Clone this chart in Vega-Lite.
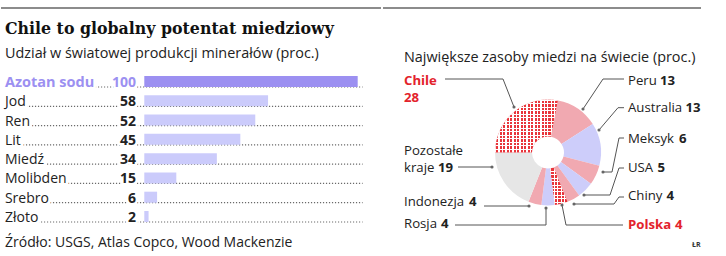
{
  "$schema": "https://vega.github.io/schema/vega-lite/v6.json",
  "padding": 0,
  "spacing": 0,
  "background": "white",
  "config": {"view": {"stroke": null}, "font": "Open Sans", "concat": {"spacing": 0}},
  "datasets": {
    "mineraly": [
      {"nazwa": "Azotan sodu", "udzial": 100},
      {"nazwa": "Jod", "udzial": 58},
      {"nazwa": "Ren", "udzial": 52},
      {"nazwa": "Lit", "udzial": 45},
      {"nazwa": "Miedź", "udzial": 34},
      {"nazwa": "Molibden", "udzial": 15},
      {"nazwa": "Srebro", "udzial": 6},
      {"nazwa": "Złoto", "udzial": 2}
    ],
    "zasoby": [
      {"i": 1, "kraj": "Peru", "proc": 13},
      {"i": 2, "kraj": "Australia", "proc": 13},
      {"i": 3, "kraj": "Meksyk", "proc": 6},
      {"i": 4, "kraj": "USA", "proc": 5},
      {"i": 5, "kraj": "Chiny", "proc": 4},
      {"i": 6, "kraj": "Polska", "proc": 4},
      {"i": 7, "kraj": "Rosja", "proc": 4},
      {"i": 8, "kraj": "Indonezja", "proc": 4},
      {"i": 9, "kraj": "Pozostałe kraje", "proc": 19},
      {"i": 10, "kraj": "Chile", "proc": 28}
    ],
    "podpisy": [
      {"kraj": "Chile", "nazwa": "Chile", "x": 401, "y": 85, "nx": 401, "ny": 102},
      {"kraj": "Peru", "nazwa": "Peru", "x": 625, "y": 85, "nx": 657, "ny": 85},
      {"kraj": "Australia", "nazwa": "Australia", "x": 625, "y": 112, "nx": 682.5, "ny": 112},
      {"kraj": "Meksyk", "nazwa": "Meksyk", "x": 625, "y": 143, "nx": 676, "ny": 143},
      {"kraj": "USA", "nazwa": "USA", "x": 625, "y": 172, "nx": 654.5, "ny": 172},
      {"kraj": "Chiny", "nazwa": "Chiny", "x": 625, "y": 200, "nx": 663.5, "ny": 200},
      {"kraj": "Polska", "nazwa": "Polska", "x": 625, "y": 229, "nx": 672, "ny": 229},
      {"kraj": "Pozostałe kraje", "nazwa": "Pozostałe", "x": 401, "y": 155},
      {"kraj": "Pozostałe kraje", "nazwa": "kraje", "x": 401, "y": 172, "nx": 435, "ny": 172},
      {"kraj": "Indonezja", "nazwa": "Indonezja", "x": 401, "y": 206, "nx": 466, "ny": 206},
      {"kraj": "Rosja", "nazwa": "Rosja", "x": 401, "y": 228, "nx": 438, "ny": 228}
    ],
    "linie": [
      {"kraj": "Chile", "p": 0, "x": 511, "y": 107},
      {"kraj": "Chile", "p": 1, "x": 500, "y": 79},
      {"kraj": "Chile", "p": 2, "x": 442, "y": 79},
      {"kraj": "Peru", "p": 0, "x": 580, "y": 109},
      {"kraj": "Peru", "p": 1, "x": 600, "y": 79},
      {"kraj": "Peru", "p": 2, "x": 621, "y": 79},
      {"kraj": "Australia", "p": 0, "x": 596, "y": 130},
      {"kraj": "Australia", "p": 1, "x": 615, "y": 107.7},
      {"kraj": "Australia", "p": 2, "x": 621, "y": 107.7},
      {"kraj": "Meksyk", "p": 0, "x": 600, "y": 172},
      {"kraj": "Meksyk", "p": 1, "x": 609, "y": 172},
      {"kraj": "Meksyk", "p": 2, "x": 616, "y": 138},
      {"kraj": "Meksyk", "p": 3, "x": 621, "y": 138},
      {"kraj": "USA", "p": 0, "x": 581, "y": 195},
      {"kraj": "USA", "p": 1, "x": 607, "y": 195},
      {"kraj": "USA", "p": 2, "x": 616, "y": 168},
      {"kraj": "USA", "p": 3, "x": 621, "y": 168},
      {"kraj": "Chiny", "p": 0, "x": 571, "y": 204},
      {"kraj": "Chiny", "p": 1, "x": 611, "y": 204},
      {"kraj": "Chiny", "p": 2, "x": 616, "y": 197},
      {"kraj": "Chiny", "p": 3, "x": 621, "y": 197},
      {"kraj": "Polska", "p": 0, "x": 559, "y": 205},
      {"kraj": "Polska", "p": 1, "x": 563, "y": 225},
      {"kraj": "Polska", "p": 2, "x": 620, "y": 225},
      {"kraj": "Rosja", "p": 0, "x": 543, "y": 208},
      {"kraj": "Rosja", "p": 1, "x": 543, "y": 225},
      {"kraj": "Rosja", "p": 2, "x": 452, "y": 225},
      {"kraj": "Indonezja", "p": 0, "x": 526, "y": 206},
      {"kraj": "Indonezja", "p": 1, "x": 481, "y": 206},
      {"kraj": "Pozostałe kraje", "p": 0, "x": 489, "y": 167},
      {"kraj": "Pozostałe kraje", "p": 1, "x": 455, "y": 167}
    ]
  },
  "hconcat": [
    {
      "spacing": 0,
      "vconcat": [
        {
          "width": 380,
          "height": 66,
          "data": {"values": [{}]},
          "layer": [
            {
              "mark": {"type": "rule", "color": "#8c8c8c", "strokeWidth": 2},
              "encoding": {
                "x": {"datum": 0, "type": "quantitative", "scale": {"domain": [0, 380], "nice": false, "zero": false}, "axis": null},
                "x2": {"datum": 380},
                "y": {"datum": 8, "type": "quantitative", "scale": {"domain": [0, 66], "reverse": true, "nice": false, "zero": false}, "axis": null}
              }
            },
            {
              "mark": {"type": "text", "align": "left", "baseline": "alphabetic", "font": "DejaVu Serif", "fontSize": 15.8, "fontWeight": "bold", "color": "#111111"},
              "encoding": {
                "x": {"datum": 4, "type": "quantitative", "scale": {"domain": [0, 380], "nice": false, "zero": false}, "axis": null},
                "y": {"datum": 34, "type": "quantitative", "scale": {"domain": [0, 66], "reverse": true, "nice": false, "zero": false}, "axis": null},
                "text": {"value": "Chile to globalny potentat miedziowy"}
              }
            },
            {
              "mark": {"type": "text", "align": "left", "baseline": "alphabetic", "fontSize": 14.4, "color": "#222222"},
              "encoding": {
                "x": {"datum": 4, "type": "quantitative", "scale": {"domain": [0, 380], "nice": false, "zero": false}, "axis": null},
                "y": {"datum": 58, "type": "quantitative", "scale": {"domain": [0, 66], "reverse": true, "nice": false, "zero": false}, "axis": null},
                "text": {"value": "Udział w światowej produkcji minerałów (proc.)"}
              }
            }
          ]
        },
        {
          "width": 380,
          "height": 166,
          "data": {"name": "mineraly"},
          "layer": [
            {
              "mark": {"type": "rule", "strokeDash": [1.2, 1.8], "color": "#6a6a6a", "strokeWidth": 1.2},
              "encoding": {
                "x": {"datum": -65.3, "type": "quantitative", "scale": {"domain": [-67.15, 110.92], "nice": false, "zero": false}, "axis": null},
                "x2": {"datum": 102.3},
                "y": {"field": "nazwa", "type": "nominal", "bandPosition": 1, "axis": null, "scale": {"type": "band", "domain": ["Azotan sodu", "Jod", "Ren", "Lit", "Miedź", "Molibden", "Srebro", "Złoto"], "paddingInner": 0.4283, "paddingOuter": 0.5186}}
              }
            },
            {
              "mark": {"type": "bar"},
              "encoding": {
                "x": {"field": "udzial", "type": "quantitative", "scale": {"domain": [-67.15, 110.92], "nice": false, "zero": false}, "axis": null},
                "x2": {"datum": 0},
                "y": {"field": "nazwa", "type": "nominal", "axis": null, "scale": {"type": "band", "domain": ["Azotan sodu", "Jod", "Ren", "Lit", "Miedź", "Molibden", "Srebro", "Złoto"], "paddingInner": 0.4283, "paddingOuter": 0.5186}},
                "color": {"condition": {"test": "datum.nazwa === 'Azotan sodu'", "value": "#9c90f1"}, "value": "#cbcbfb"}
              }
            },
            {
              "transform": [{"filter": "datum.nazwa !== 'Azotan sodu'"}],
              "mark": {"type": "text", "align": "left", "baseline": "alphabetic", "fontSize": 14, "fill": "white", "stroke": "white", "strokeWidth": 6, "strokeJoin": "round"},
              "encoding": {
                "x": {"datum": -65.3, "type": "quantitative", "scale": {"domain": [-67.15, 110.92], "nice": false, "zero": false}, "axis": null},
                "y": {"field": "nazwa", "type": "nominal", "bandPosition": 1, "axis": null, "scale": {"type": "band", "domain": ["Azotan sodu", "Jod", "Ren", "Lit", "Miedź", "Molibden", "Srebro", "Złoto"], "paddingInner": 0.4283, "paddingOuter": 0.5186}},
                "text": {"field": "nazwa"}
              }
            },
            {
              "transform": [{"filter": "datum.nazwa === 'Azotan sodu'"}],
              "mark": {"type": "text", "align": "left", "baseline": "alphabetic", "fontSize": 14.5, "fontWeight": "bold", "fill": "white", "stroke": "white", "strokeWidth": 6, "strokeJoin": "round"},
              "encoding": {
                "x": {"datum": -65.3, "type": "quantitative", "scale": {"domain": [-67.15, 110.92], "nice": false, "zero": false}, "axis": null},
                "y": {"field": "nazwa", "type": "nominal", "bandPosition": 1, "axis": null, "scale": {"type": "band", "domain": ["Azotan sodu", "Jod", "Ren", "Lit", "Miedź", "Molibden", "Srebro", "Złoto"], "paddingInner": 0.4283, "paddingOuter": 0.5186}},
                "text": {"field": "nazwa"}
              }
            },
            {
              "mark": {"type": "text", "align": "right", "baseline": "alphabetic", "fontSize": 14, "fontWeight": "bold", "fill": "white", "stroke": "white", "strokeWidth": 5, "strokeJoin": "round"},
              "encoding": {
                "x": {"datum": -3.9, "type": "quantitative", "scale": {"domain": [-67.15, 110.92], "nice": false, "zero": false}, "axis": null},
                "y": {"field": "nazwa", "type": "nominal", "bandPosition": 1, "axis": null, "scale": {"type": "band", "domain": ["Azotan sodu", "Jod", "Ren", "Lit", "Miedź", "Molibden", "Srebro", "Złoto"], "paddingInner": 0.4283, "paddingOuter": 0.5186}},
                "text": {"field": "udzial"}
              }
            },
            {
              "transform": [{"filter": "datum.nazwa !== 'Azotan sodu'"}],
              "mark": {"type": "text", "align": "left", "baseline": "alphabetic", "fontSize": 14, "color": "#222222"},
              "encoding": {
                "x": {"datum": -65.3, "type": "quantitative", "scale": {"domain": [-67.15, 110.92], "nice": false, "zero": false}, "axis": null},
                "y": {"field": "nazwa", "type": "nominal", "bandPosition": 1, "axis": null, "scale": {"type": "band", "domain": ["Azotan sodu", "Jod", "Ren", "Lit", "Miedź", "Molibden", "Srebro", "Złoto"], "paddingInner": 0.4283, "paddingOuter": 0.5186}},
                "text": {"field": "nazwa"}
              }
            },
            {
              "transform": [{"filter": "datum.nazwa === 'Azotan sodu'"}],
              "mark": {"type": "text", "align": "left", "baseline": "alphabetic", "fontSize": 14.5, "fontWeight": "bold", "color": "#9c90f1"},
              "encoding": {
                "x": {"datum": -65.3, "type": "quantitative", "scale": {"domain": [-67.15, 110.92], "nice": false, "zero": false}, "axis": null},
                "y": {"field": "nazwa", "type": "nominal", "bandPosition": 1, "axis": null, "scale": {"type": "band", "domain": ["Azotan sodu", "Jod", "Ren", "Lit", "Miedź", "Molibden", "Srebro", "Złoto"], "paddingInner": 0.4283, "paddingOuter": 0.5186}},
                "text": {"field": "nazwa"}
              }
            },
            {
              "mark": {"type": "text", "align": "right", "baseline": "alphabetic", "fontSize": 14, "fontWeight": "bold"},
              "encoding": {
                "x": {"datum": -3.9, "type": "quantitative", "scale": {"domain": [-67.15, 110.92], "nice": false, "zero": false}, "axis": null},
                "y": {"field": "nazwa", "type": "nominal", "bandPosition": 1, "axis": null, "scale": {"type": "band", "domain": ["Azotan sodu", "Jod", "Ren", "Lit", "Miedź", "Molibden", "Srebro", "Złoto"], "paddingInner": 0.4283, "paddingOuter": 0.5186}},
                "text": {"field": "udzial"},
                "color": {"condition": {"test": "datum.nazwa === 'Azotan sodu'", "value": "#9c90f1"}, "value": "#222222"}
              }
            }
          ]
        },
        {
          "width": 380,
          "height": 24,
          "data": {"values": [{}]},
          "mark": {"type": "text", "align": "left", "baseline": "alphabetic", "fontSize": 14, "color": "#222222"},
          "encoding": {
            "x": {"datum": 4, "type": "quantitative", "scale": {"domain": [0, 380], "nice": false, "zero": false}, "axis": null},
            "y": {"datum": 247, "type": "quantitative", "scale": {"domain": [232, 256], "reverse": true, "nice": false, "zero": false}, "axis": null},
            "text": {"value": "Źródło: USGS, Atlas Copco, Wood Mackenzie"}
          }
        }
      ]
    },
    {
      "width": 346,
      "height": 256,
      "layer": [
        {
          "data": {"values": [{}]},
          "mark": {"type": "rule", "color": "#8c8c8c", "strokeWidth": 2},
          "encoding": {
            "x": {"datum": 380, "type": "quantitative", "scale": {"domain": [380, 726], "nice": false, "zero": false}, "axis": null},
            "x2": {"datum": 698},
            "y": {"datum": 8, "type": "quantitative", "scale": {"domain": [0, 256], "reverse": true, "nice": false, "zero": false}, "axis": null}
          }
        },
        {
          "data": {"values": [{}]},
          "mark": {"type": "text", "align": "left", "baseline": "alphabetic", "fontSize": 14.4, "color": "#222222"},
          "encoding": {
            "x": {"datum": 401, "type": "quantitative", "scale": {"domain": [380, 726], "nice": false, "zero": false}, "axis": null},
            "y": {"datum": 62, "type": "quantitative", "scale": {"domain": [0, 256], "reverse": true, "nice": false, "zero": false}, "axis": null},
            "text": {"value": "Największe zasoby miedzi na świecie (proc.)"}
          }
        },
        {
          "data": {"name": "zasoby"},
          "mark": {"type": "arc", "outerRadius": 53, "innerRadius": 16},
          "encoding": {
            "x": {"datum": 545, "type": "quantitative", "scale": {"domain": [380, 726], "nice": false, "zero": false}, "axis": null},
            "y": {"datum": 152.5, "type": "quantitative", "scale": {"domain": [0, 256], "reverse": true, "nice": false, "zero": false}, "axis": null},
            "theta": {"field": "proc", "type": "quantitative", "stack": true, "scale": {"range": [0.1885, 6.4717]}},
            "order": {"field": "i", "type": "quantitative"},
            "fill": {"field": "kraj", "type": "nominal", "legend": null, "scale": {"domain": ["Peru", "Australia", "Meksyk", "USA", "Chiny", "Polska", "Rosja", "Indonezja", "Pozostałe kraje", "Chile"], "range": ["#f1a9b1", "#cdcdfa", "#f1a9b1", "#cdcdfa", "#f1a9b1", "#e8343a", "#cdcdfa", "#f1a9b1", "#e6e6e6", "#e8343a"]}}
          }
        },
        {
          "data": {"name": "zasoby"},
          "mark": {"type": "arc", "outerRadius": 53, "innerRadius": 16},
          "encoding": {
            "x": {"datum": 545, "type": "quantitative", "scale": {"domain": [380, 726], "nice": false, "zero": false}, "axis": null},
            "y": {"datum": 152.5, "type": "quantitative", "scale": {"domain": [0, 256], "reverse": true, "nice": false, "zero": false}, "axis": null},
            "theta": {"field": "proc", "type": "quantitative", "stack": true, "scale": {"range": [0.1885, 6.4717]}},
            "order": {"field": "i", "type": "quantitative"},
            "fill": {
              "condition": [
                {"test": "datum.kraj === 'Chile'", "value": {"gradient": "linear", "x1": 0, "y1": 0, "x2": 1, "y2": 0, "stops": [
                  {"offset": 0, "color": "#fff"}, {"offset": 0.0167, "color": "#fff"}, {"offset": 0.0167, "color": "transparent"}, {"offset": 0.0556, "color": "transparent"},
                  {"offset": 0.0556, "color": "#fff"}, {"offset": 0.0722, "color": "#fff"}, {"offset": 0.0722, "color": "transparent"}, {"offset": 0.1111, "color": "transparent"},
                  {"offset": 0.1111, "color": "#fff"}, {"offset": 0.1278, "color": "#fff"}, {"offset": 0.1278, "color": "transparent"}, {"offset": 0.1667, "color": "transparent"},
                  {"offset": 0.1667, "color": "#fff"}, {"offset": 0.1833, "color": "#fff"}, {"offset": 0.1833, "color": "transparent"}, {"offset": 0.2222, "color": "transparent"},
                  {"offset": 0.2222, "color": "#fff"}, {"offset": 0.2389, "color": "#fff"}, {"offset": 0.2389, "color": "transparent"}, {"offset": 0.2778, "color": "transparent"},
                  {"offset": 0.2778, "color": "#fff"}, {"offset": 0.2944, "color": "#fff"}, {"offset": 0.2944, "color": "transparent"}, {"offset": 0.3333, "color": "transparent"},
                  {"offset": 0.3333, "color": "#fff"}, {"offset": 0.35, "color": "#fff"}, {"offset": 0.35, "color": "transparent"}, {"offset": 0.3889, "color": "transparent"},
                  {"offset": 0.3889, "color": "#fff"}, {"offset": 0.4056, "color": "#fff"}, {"offset": 0.4056, "color": "transparent"}, {"offset": 0.4444, "color": "transparent"},
                  {"offset": 0.4444, "color": "#fff"}, {"offset": 0.4611, "color": "#fff"}, {"offset": 0.4611, "color": "transparent"}, {"offset": 0.5, "color": "transparent"},
                  {"offset": 0.5, "color": "#fff"}, {"offset": 0.5167, "color": "#fff"}, {"offset": 0.5167, "color": "transparent"}, {"offset": 0.5556, "color": "transparent"},
                  {"offset": 0.5556, "color": "#fff"}, {"offset": 0.5722, "color": "#fff"}, {"offset": 0.5722, "color": "transparent"}, {"offset": 0.6111, "color": "transparent"},
                  {"offset": 0.6111, "color": "#fff"}, {"offset": 0.6278, "color": "#fff"}, {"offset": 0.6278, "color": "transparent"}, {"offset": 0.6667, "color": "transparent"},
                  {"offset": 0.6667, "color": "#fff"}, {"offset": 0.6833, "color": "#fff"}, {"offset": 0.6833, "color": "transparent"}, {"offset": 0.7222, "color": "transparent"},
                  {"offset": 0.7222, "color": "#fff"}, {"offset": 0.7389, "color": "#fff"}, {"offset": 0.7389, "color": "transparent"}, {"offset": 0.7778, "color": "transparent"},
                  {"offset": 0.7778, "color": "#fff"}, {"offset": 0.7944, "color": "#fff"}, {"offset": 0.7944, "color": "transparent"}, {"offset": 0.8333, "color": "transparent"},
                  {"offset": 0.8333, "color": "#fff"}, {"offset": 0.85, "color": "#fff"}, {"offset": 0.85, "color": "transparent"}, {"offset": 0.8889, "color": "transparent"},
                  {"offset": 0.8889, "color": "#fff"}, {"offset": 0.9056, "color": "#fff"}, {"offset": 0.9056, "color": "transparent"}, {"offset": 0.9444, "color": "transparent"},
                  {"offset": 0.9444, "color": "#fff"}, {"offset": 0.9611, "color": "#fff"}, {"offset": 0.9611, "color": "transparent"}, {"offset": 1, "color": "transparent"}
                ]}},
                {"test": "datum.kraj === 'Polska'", "value": {"gradient": "linear", "x1": 0, "y1": 0, "x2": 1, "y2": 0, "stops": [
                  {"offset": 0, "color": "#fff"}, {"offset": 0.06, "color": "#fff"}, {"offset": 0.06, "color": "transparent"}, {"offset": 0.2, "color": "transparent"},
                  {"offset": 0.2, "color": "#fff"}, {"offset": 0.26, "color": "#fff"}, {"offset": 0.26, "color": "transparent"}, {"offset": 0.4, "color": "transparent"},
                  {"offset": 0.4, "color": "#fff"}, {"offset": 0.46, "color": "#fff"}, {"offset": 0.46, "color": "transparent"}, {"offset": 0.6, "color": "transparent"},
                  {"offset": 0.6, "color": "#fff"}, {"offset": 0.66, "color": "#fff"}, {"offset": 0.66, "color": "transparent"}, {"offset": 0.8, "color": "transparent"},
                  {"offset": 0.8, "color": "#fff"}, {"offset": 0.86, "color": "#fff"}, {"offset": 0.86, "color": "transparent"}, {"offset": 1, "color": "transparent"}
                ]}}
              ],
              "value": "transparent"
            }
          }
        },
        {
          "data": {"name": "zasoby"},
          "mark": {"type": "arc", "outerRadius": 53, "innerRadius": 16},
          "encoding": {
            "x": {"datum": 545, "type": "quantitative", "scale": {"domain": [380, 726], "nice": false, "zero": false}, "axis": null},
            "y": {"datum": 152.5, "type": "quantitative", "scale": {"domain": [0, 256], "reverse": true, "nice": false, "zero": false}, "axis": null},
            "theta": {"field": "proc", "type": "quantitative", "stack": true, "scale": {"range": [0.1885, 6.4717]}},
            "order": {"field": "i", "type": "quantitative"},
            "fill": {
              "condition": [
                {"test": "datum.kraj === 'Chile'", "value": {"gradient": "linear", "x1": 0, "y1": 0, "x2": 0, "y2": 1, "stops": [
                  {"offset": 0, "color": "#fff"}, {"offset": 0.02, "color": "#fff"}, {"offset": 0.02, "color": "transparent"}, {"offset": 0.0667, "color": "transparent"},
                  {"offset": 0.0667, "color": "#fff"}, {"offset": 0.0867, "color": "#fff"}, {"offset": 0.0867, "color": "transparent"}, {"offset": 0.1333, "color": "transparent"},
                  {"offset": 0.1333, "color": "#fff"}, {"offset": 0.1533, "color": "#fff"}, {"offset": 0.1533, "color": "transparent"}, {"offset": 0.2, "color": "transparent"},
                  {"offset": 0.2, "color": "#fff"}, {"offset": 0.22, "color": "#fff"}, {"offset": 0.22, "color": "transparent"}, {"offset": 0.2667, "color": "transparent"},
                  {"offset": 0.2667, "color": "#fff"}, {"offset": 0.2867, "color": "#fff"}, {"offset": 0.2867, "color": "transparent"}, {"offset": 0.3333, "color": "transparent"},
                  {"offset": 0.3333, "color": "#fff"}, {"offset": 0.3533, "color": "#fff"}, {"offset": 0.3533, "color": "transparent"}, {"offset": 0.4, "color": "transparent"},
                  {"offset": 0.4, "color": "#fff"}, {"offset": 0.42, "color": "#fff"}, {"offset": 0.42, "color": "transparent"}, {"offset": 0.4667, "color": "transparent"},
                  {"offset": 0.4667, "color": "#fff"}, {"offset": 0.4867, "color": "#fff"}, {"offset": 0.4867, "color": "transparent"}, {"offset": 0.5333, "color": "transparent"},
                  {"offset": 0.5333, "color": "#fff"}, {"offset": 0.5533, "color": "#fff"}, {"offset": 0.5533, "color": "transparent"}, {"offset": 0.6, "color": "transparent"},
                  {"offset": 0.6, "color": "#fff"}, {"offset": 0.62, "color": "#fff"}, {"offset": 0.62, "color": "transparent"}, {"offset": 0.6667, "color": "transparent"},
                  {"offset": 0.6667, "color": "#fff"}, {"offset": 0.6867, "color": "#fff"}, {"offset": 0.6867, "color": "transparent"}, {"offset": 0.7333, "color": "transparent"},
                  {"offset": 0.7333, "color": "#fff"}, {"offset": 0.7533, "color": "#fff"}, {"offset": 0.7533, "color": "transparent"}, {"offset": 0.8, "color": "transparent"},
                  {"offset": 0.8, "color": "#fff"}, {"offset": 0.82, "color": "#fff"}, {"offset": 0.82, "color": "transparent"}, {"offset": 0.8667, "color": "transparent"},
                  {"offset": 0.8667, "color": "#fff"}, {"offset": 0.8867, "color": "#fff"}, {"offset": 0.8867, "color": "transparent"}, {"offset": 0.9333, "color": "transparent"},
                  {"offset": 0.9333, "color": "#fff"}, {"offset": 0.9533, "color": "#fff"}, {"offset": 0.9533, "color": "transparent"}, {"offset": 1, "color": "transparent"}
                ]}},
                {"test": "datum.kraj === 'Polska'", "value": {"gradient": "linear", "x1": 0, "y1": 0, "x2": 0, "y2": 1, "stops": [
                  {"offset": 0, "color": "#fff"}, {"offset": 0.0273, "color": "#fff"}, {"offset": 0.0273, "color": "transparent"}, {"offset": 0.0909, "color": "transparent"},
                  {"offset": 0.0909, "color": "#fff"}, {"offset": 0.1182, "color": "#fff"}, {"offset": 0.1182, "color": "transparent"}, {"offset": 0.1818, "color": "transparent"},
                  {"offset": 0.1818, "color": "#fff"}, {"offset": 0.2091, "color": "#fff"}, {"offset": 0.2091, "color": "transparent"}, {"offset": 0.2727, "color": "transparent"},
                  {"offset": 0.2727, "color": "#fff"}, {"offset": 0.3, "color": "#fff"}, {"offset": 0.3, "color": "transparent"}, {"offset": 0.3636, "color": "transparent"},
                  {"offset": 0.3636, "color": "#fff"}, {"offset": 0.3909, "color": "#fff"}, {"offset": 0.3909, "color": "transparent"}, {"offset": 0.4545, "color": "transparent"},
                  {"offset": 0.4545, "color": "#fff"}, {"offset": 0.4818, "color": "#fff"}, {"offset": 0.4818, "color": "transparent"}, {"offset": 0.5455, "color": "transparent"},
                  {"offset": 0.5455, "color": "#fff"}, {"offset": 0.5727, "color": "#fff"}, {"offset": 0.5727, "color": "transparent"}, {"offset": 0.6364, "color": "transparent"},
                  {"offset": 0.6364, "color": "#fff"}, {"offset": 0.6636, "color": "#fff"}, {"offset": 0.6636, "color": "transparent"}, {"offset": 0.7273, "color": "transparent"},
                  {"offset": 0.7273, "color": "#fff"}, {"offset": 0.7545, "color": "#fff"}, {"offset": 0.7545, "color": "transparent"}, {"offset": 0.8182, "color": "transparent"},
                  {"offset": 0.8182, "color": "#fff"}, {"offset": 0.8455, "color": "#fff"}, {"offset": 0.8455, "color": "transparent"}, {"offset": 0.9091, "color": "transparent"},
                  {"offset": 0.9091, "color": "#fff"}, {"offset": 0.9364, "color": "#fff"}, {"offset": 0.9364, "color": "transparent"}, {"offset": 1, "color": "transparent"}
                ]}}
              ],
              "value": "transparent"
            }
          }
        },
        {
          "data": {"name": "linie"},
          "mark": {"type": "line", "color": "#555555", "strokeWidth": 1},
          "encoding": {
            "x": {"field": "x", "type": "quantitative", "scale": {"domain": [380, 726], "nice": false, "zero": false}, "axis": null},
            "y": {"field": "y", "type": "quantitative", "scale": {"domain": [0, 256], "reverse": true, "nice": false, "zero": false}, "axis": null},
            "detail": {"field": "kraj"},
            "order": {"field": "p", "type": "quantitative"}
          }
        },
        {
          "data": {"name": "linie"},
          "transform": [{"filter": "datum.p === 0"}],
          "mark": {"type": "point", "filled": true, "size": 10, "color": "#666666", "opacity": 1},
          "encoding": {
            "x": {"field": "x", "type": "quantitative", "scale": {"domain": [380, 726], "nice": false, "zero": false}, "axis": null},
            "y": {"field": "y", "type": "quantitative", "scale": {"domain": [0, 256], "reverse": true, "nice": false, "zero": false}, "axis": null}
          }
        },
        {
          "data": {"name": "podpisy"},
          "transform": [{"filter": "datum.kraj !== 'Chile' && datum.kraj !== 'Polska'"}],
          "mark": {"type": "text", "align": "left", "baseline": "alphabetic", "fontSize": 13.2, "color": "#222222"},
          "encoding": {
            "x": {"field": "x", "type": "quantitative", "scale": {"domain": [380, 726], "nice": false, "zero": false}, "axis": null},
            "y": {"field": "y", "type": "quantitative", "scale": {"domain": [0, 256], "reverse": true, "nice": false, "zero": false}, "axis": null},
            "text": {"field": "nazwa"}
          }
        },
        {
          "data": {"name": "podpisy"},
          "transform": [{"filter": "datum.kraj === 'Chile' || datum.kraj === 'Polska'"}],
          "mark": {"type": "text", "align": "left", "baseline": "alphabetic", "fontSize": 13.2, "fontWeight": "bold", "color": "#e3232c"},
          "encoding": {
            "x": {"field": "x", "type": "quantitative", "scale": {"domain": [380, 726], "nice": false, "zero": false}, "axis": null},
            "y": {"field": "y", "type": "quantitative", "scale": {"domain": [0, 256], "reverse": true, "nice": false, "zero": false}, "axis": null},
            "text": {"field": "nazwa"}
          }
        },
        {
          "data": {"name": "podpisy"},
          "transform": [
            {"filter": "isValid(datum.nx)"},
            {"lookup": "kraj", "from": {"data": {"name": "zasoby"}, "key": "kraj", "fields": ["proc"]}}
          ],
          "mark": {"type": "text", "align": "left", "baseline": "alphabetic", "fontSize": 13.2, "fontWeight": "bold"},
          "encoding": {
            "x": {"field": "nx", "type": "quantitative", "scale": {"domain": [380, 726], "nice": false, "zero": false}, "axis": null},
            "y": {"field": "ny", "type": "quantitative", "scale": {"domain": [0, 256], "reverse": true, "nice": false, "zero": false}, "axis": null},
            "text": {"field": "proc"},
            "color": {"condition": {"test": "datum.kraj === 'Chile' || datum.kraj === 'Polska'", "value": "#e3232c"}, "value": "#222222"}
          }
        },
        {
          "data": {"values": [{}]},
          "mark": {"type": "text", "align": "left", "baseline": "alphabetic", "fontSize": 7, "fontWeight": "bold", "color": "#333333"},
          "encoding": {
            "x": {"datum": 689, "type": "quantitative", "scale": {"domain": [380, 726], "nice": false, "zero": false}, "axis": null},
            "y": {"datum": 247, "type": "quantitative", "scale": {"domain": [0, 256], "reverse": true, "nice": false, "zero": false}, "axis": null},
            "text": {"value": "ŁR"}
          }
        }
      ]
    }
  ]
}
